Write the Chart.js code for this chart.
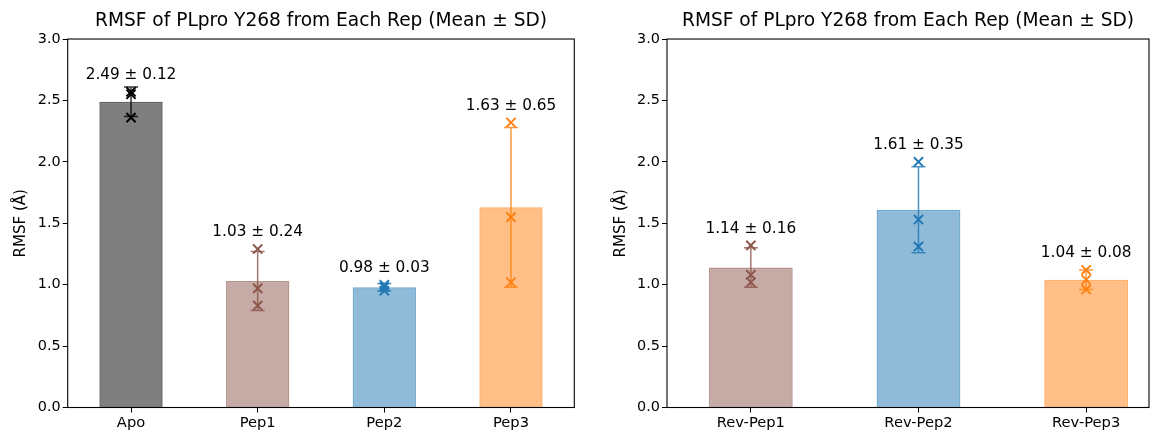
<!DOCTYPE html>
<html>
<head>
<meta charset="utf-8">
<title>RMSF of PLpro Y268</title>
<script src="https://cdn.jsdelivr.net/npm/chart.js@4.4.1/dist/chart.umd.min.js"></script>
<style>
	html, body { margin: 0; padding: 0; background: #fff; }
	#wrap { position: relative; width: 1160px; height: 432px; }
	#left { position: absolute; left: 0; top: 0; }
	#right { position: absolute; left: 600px; top: 0; }
</style>
</head>
<body>
<div id="wrap">
	<canvas id="left" width="600" height="432"></canvas>
	<canvas id="right" width="560" height="432"></canvas>
</div>
<script>
( function () {
	'use strict';

	// Per-rep RMSF values, with the mean and SD printed above each bar
	var leftLabels = [ 'Apo', 'Pep1', 'Pep2', 'Pep3' ];
	var leftMeans  = [ 2.49, 1.03, 0.98, 1.63 ];
	var leftSDs    = [ 0.12, 0.24, 0.03, 0.65 ];
	var leftReps   = [
		[ 2.57, 2.55, 2.36 ],
		[ 1.29, 0.97, 0.83 ],
		[ 1.00, 0.98, 0.95 ],
		[ 2.32, 1.55, 1.02 ],
	];

	var rightLabels = [ 'Rev-Pep1', 'Rev-Pep2', 'Rev-Pep3' ];
	var rightMeans  = [ 1.14, 1.61, 1.04 ];
	var rightSDs    = [ 0.16, 0.35, 0.08 ];
	var rightReps   = [
		[ 1.32, 1.08, 1.02 ],
		[ 2.00, 1.53, 1.31 ],
		[ 1.12, 1.04, 0.96 ],
	];

	var yMin = 0, yMax = 3, yStep = 0.5;
	var titleText = 'RMSF of PLpro Y268 from Each Rep (Mean \u00b1 SD)';
	var yTitle = 'RMSF (\u00c5)';

	var rgb = {
		black:  [ 0, 0, 0 ],
		brown:  [ 140, 86, 75 ],
		blue:   [ 31, 119, 180 ],
		orange: [ 255, 127, 14 ],
	};
	function rgba( c, a ) {
		return 'rgba(' + c[0] + ',' + c[1] + ',' + c[2] + ',' + a + ')';
	}

	Chart.defaults.font.family = '"DejaVu Sans", sans-serif';
	Chart.defaults.color = '#000';

	// error bars, value labels and the closed axes frame
	var extras = {
		id: 'extras',
		afterDatasetDraw: function ( chart, args ) {
			if ( args.meta.type !== 'bar' ) {
				return;
			}
			var o = chart.options.plugins.extras;
			var xs = chart.scales.x, ys = chart.scales.y, ctx = chart.ctx;
			ctx.save();
			ctx.lineWidth = 1.5;
			o.means.forEach( function ( m, i ) {
				var px = xs.getPixelForValue( i );
				var top = ys.getPixelForValue( m + o.sds[i] );
				var bot = ys.getPixelForValue( m - o.sds[i] );
				ctx.strokeStyle = rgba( o.colors[i], 0.8 );
				ctx.beginPath();
				ctx.moveTo( px, top ); ctx.lineTo( px, bot );
				ctx.moveTo( px - 7, top ); ctx.lineTo( px + 7, top );
				ctx.moveTo( px - 7, bot ); ctx.lineTo( px + 7, bot );
				ctx.stroke();
			} );
			ctx.restore();
		},
		afterDatasetsDraw: function ( chart ) {
			var o = chart.options.plugins.extras;
			var xs = chart.scales.x, ys = chart.scales.y, ctx = chart.ctx;
			ctx.save();
			ctx.font = '15.3px "DejaVu Sans"';
			ctx.fillStyle = '#000';
			ctx.textAlign = 'center';
			ctx.textBaseline = 'middle';
			o.means.forEach( function ( m, i ) {
				var hi = Math.max.apply( null, o.reps[i] );
				ctx.fillText( m.toFixed( 2 ) + ' \u00b1 ' + o.sds[i].toFixed( 2 ),
					xs.getPixelForValue( i ), ys.getPixelForValue( hi + 0.135 ) );
			} );
			var a = chart.chartArea;
			ctx.strokeStyle = '#000';
			ctx.lineWidth = 1.1;
			ctx.strokeRect( a.left, a.top, a.right - a.left, a.bottom - a.top );
			ctx.restore();
		},
	};

	function build( canvasId, labels, means, sds, reps, colors, xMax, axisWidth, padRight ) {
		var points = [], pointColors = [];
		reps.forEach( function ( vals, i ) {
			vals.forEach( function ( v ) {
				points.push( { x: i, y: v } );
				pointColors.push( rgba( colors[i], 1 ) );
			} );
		} );

		// eslint-disable-next-line no-new
		new Chart( document.getElementById( canvasId ), {
			type: 'bar',
			data: {
				datasets: [
					{
						type: 'scatter',
						data: points,
						pointStyle: 'crossRot',
						pointRadius: 6.5,
						pointBorderWidth: 1.9,
						pointBorderColor: pointColors,
						pointBackgroundColor: pointColors,
						order: 0,
					},
					{
						type: 'bar',
						data: means.map( function ( m, i ) { return { x: i, y: m }; } ),
						backgroundColor: colors.map( function ( c ) { return rgba( c, 0.5 ); } ),
						borderColor: colors.map( function ( c ) { return rgba( c, 0.62 ); } ),
						borderWidth: 1.5,
						categoryPercentage: 1,
						barPercentage: 0.5,
						order: 1,
					},
				],
			},
			options: {
				responsive: false,
				animation: false,
				events: [],
				layout: { padding: { left: 0, right: padRight, top: 0, bottom: 0 } },
				plugins: {
					legend: { display: false },
					tooltip: { enabled: false },
					title: {
						display: true,
						text: titleText,
						fullSize: false,
						font: { size: 18.6, weight: 'normal' },
						color: '#000',
						padding: { top: 10, bottom: 6.7 },
					},
					extras: { means: means, sds: sds, reps: reps, colors: colors },
				},
				scales: {
					x: {
						type: 'linear',
						min: -0.5,
						max: xMax,
						offset: false,
						border: { display: false },
						grid: { offset: false, drawOnChartArea: false, tickLength: 5, tickColor: '#000', tickWidth: 1 },
						ticks: {
							font: { size: 14.7 },
							color: '#000',
							padding: 2,
							maxRotation: 0,
							autoSkip: false,
							callback: function ( v ) { return labels[v]; },
						},
						afterBuildTicks: function ( s ) {
							s.ticks = labels.map( function ( l, i ) { return { value: i }; } );
						},
						afterFit: function ( s ) { s.height = 24.5; },
					},
					y: {
						min: yMin,
						max: yMax,
						border: { display: false },
						grid: { drawOnChartArea: false, tickLength: 5, tickColor: '#000', tickWidth: 1 },
						ticks: {
							stepSize: yStep,
							font: { size: 14.4 },
							color: '#000',
							padding: 2,
							callback: function ( v ) { return v.toFixed( 1 ); },
						},
						title: {
							display: true,
							text: yTitle,
							font: { size: 15 },
							color: '#000',
							padding: { top: 12, bottom: 0 },
						},
						afterFit: function ( s ) { s.width = axisWidth; },
					},
				},
			},
			plugins: [ extras ],
		} );
	}

	var leftColors  = [ rgb.black, rgb.brown, rgb.blue, rgb.orange ];
	var rightColors = [ rgb.brown, rgb.blue, rgb.orange ];

	build( 'left', leftLabels, leftMeans, leftSDs, leftReps, leftColors, 3.5, 67.7, 25.7 );
	build( 'right', rightLabels, rightMeans, rightSDs, rightReps, rightColors, 2.375, 67, 11 );
} )();
</script>
</body>
</html>
